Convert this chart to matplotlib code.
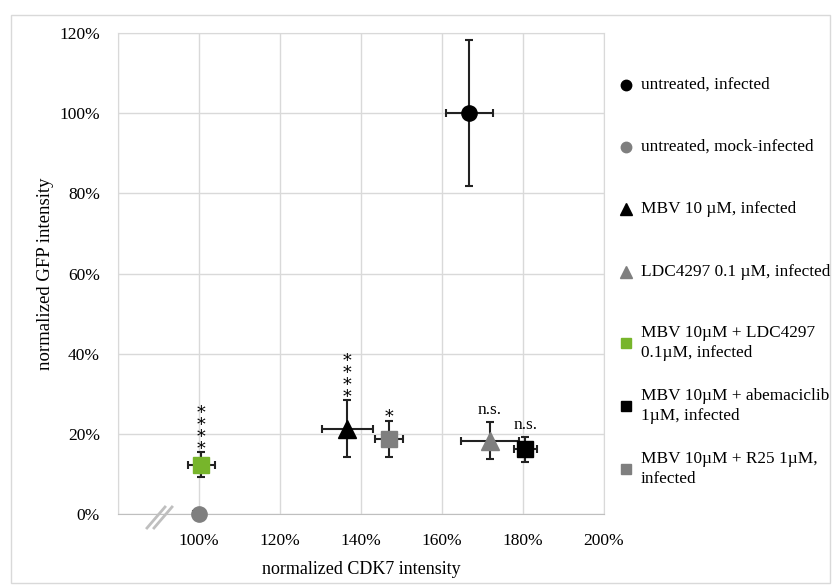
import matplotlib
matplotlib.use("Agg")
import matplotlib.pyplot as plt
from matplotlib.lines import Line2D
from matplotlib.patches import Rectangle
from matplotlib.ticker import FuncFormatter, MultipleLocator

plt.rcParams['font.family'] = ['Liberation Serif', 'DejaVu Serif']

labels = ["untreated, infected", "untreated, mock-infected", "MBV 10 \u00b5M, infected",
          "LDC4297 0.1 \u00b5M, infected", "MBV 10\u00b5M + LDC4297\n0.1\u00b5M, infected",
          "MBV 10\u00b5M + abemaciclib\n1\u00b5M, infected", "MBV 10\u00b5M + R25 1\u00b5M,\ninfected"]
cdk7 = [166.7, 100.0, 136.6, 171.8, 100.6, 180.6, 146.9]
cdk7_err = [5.8, 1.5, 6.3, 7.2, 3.4, 2.9, 3.5]
gfp = [100.0, 0.0, 21.3, 18.3, 12.3, 16.1, 18.7]
gfp_err = [18.2, 0.0, 7.1, 4.6, 3.1, 3.1, 4.6]
markers = ["o", "o", "^", "^", "s", "s", "s"]
colors = ["#000000", "#7f7f7f", "#000000", "#7f7f7f", "#77b52b", "#000000", "#7f7f7f"]
sig = ["", "", "*\n*\n*\n*", "n.s.", "*\n*\n*\n*", "n.s.", "*"]

W, H = 834, 587
fig = plt.figure(figsize=(W/100, H/100), dpi=100)
fig.patches.append(Rectangle((11/W, 1-583/H), (830-11)/W, (583-15)/H, transform=fig.transFigure,
                             fill=False, edgecolor="#d9d9d9", linewidth=1))
ax = fig.add_axes([118/W, 1-514/H, (604-118)/W, (514-33)/H])
ax.set_xlim(80, 200)
ax.set_ylim(0, 120)
ax.xaxis.set_major_locator(MultipleLocator(20))
ax.yaxis.set_major_locator(MultipleLocator(20))
ax.xaxis.set_major_formatter(FuncFormatter(lambda v, p: "" if v < 99 else f"{v:.0f}%"))
ax.yaxis.set_major_formatter(FuncFormatter(lambda v, p: f"{v:.0f}%"))
ax.grid(True, color="#d9d9d9", linewidth=1)
ax.set_axisbelow(True)
for s in ax.spines.values():
    s.set_color("#d9d9d9")
ax.spines['bottom'].set_color("#bfbfbf")
ax.tick_params(axis="x", length=0, labelsize=12.5, pad=14)
ax.tick_params(axis="y", length=0, labelsize=12.5, pad=13)
ax.set_xlabel("normalized CDK7 intensity", fontsize=13, labelpad=8)
ax.set_ylabel("normalized GFP intensity", fontsize=13.5, labelpad=4)

for i in range(len(labels)):
    ax.errorbar(cdk7[i], gfp[i], xerr=cdk7_err[i], yerr=gfp_err[i] if gfp_err[i] > 0 else None,
                fmt="none", ecolor="#222222", elinewidth=1.5, capsize=3, capthick=1.5,
                clip_on=False, zorder=3)
    ms = 12.5 if markers[i] == "^" else 11
    ax.plot(cdk7[i], gfp[i], marker=markers[i], color=colors[i], ms=ms, linestyle="none",
            clip_on=False, zorder=4)
    if sig[i]:
        top = gfp[i] + gfp_err[i]
        if sig[i].startswith("*"):
            ax.annotate(sig[i], (cdk7[i], top), xytext=(0, -4), textcoords="offset points",
                        ha="center", va="bottom", fontsize=12.5, linespacing=0.62,
                        family="DejaVu Serif")
        else:
            ax.annotate(sig[i], (cdk7[i], top), xytext=(0, 3), textcoords="offset points",
                        ha="center", va="bottom", fontsize=12.5)

# axis break mark
for dx in (0, 7):
    fig.add_artist(Line2D([(147+dx)/W, (165+dx)/W], [1-528/H, 1-507/H], color="#bfbfbf", lw=2))

# legend
leg_y = [85, 147, 209, 272, 343, 406, 469]
for i in range(len(labels)):
    ms = 8.5 if markers[i] == "^" else 7.5
    fig.add_artist(Line2D([626/W], [1-leg_y[i]/H], marker=markers[i], color=colors[i], ms=ms,
                          linestyle="none"))
    fig.text(641/W, 1-leg_y[i]/H, labels[i], ha="left", va="center", fontsize=12.4, linespacing=1.3)

fig.savefig("out.png", dpi=100)
